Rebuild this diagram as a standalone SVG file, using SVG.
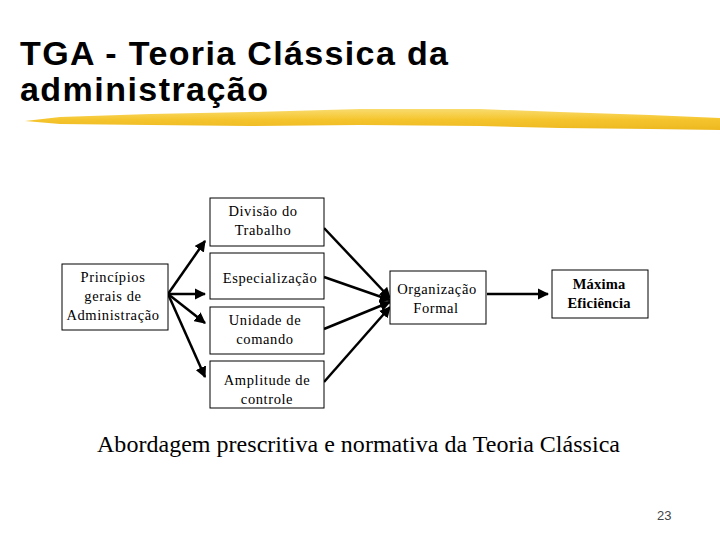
<svg xmlns="http://www.w3.org/2000/svg" width="720" height="540" viewBox="0 0 720 540">
<style>
.title{font-family:"Liberation Sans",Arial,sans-serif;font-weight:bold;font-size:34px;fill:#000}
.box{fill:#fff;stroke:#000;stroke-width:1}
.lbl{font-family:"Liberation Serif","Times New Roman",serif;font-size:14.5px;fill:#000;text-anchor:middle;letter-spacing:0.6px}
.bold{font-weight:bold;letter-spacing:0.2px}
.conn{stroke:#000;stroke-width:2.5;fill:none;marker-end:url(#ah)}
.cap{font-family:"Liberation Serif","Times New Roman",serif;font-size:24px;fill:#000}
.num{font-family:"Liberation Sans",Arial,sans-serif;font-size:13px;fill:#444}
</style>
<defs>
<marker id="ah" viewBox="0 0 10 10" refX="9" refY="5" markerWidth="4.5" markerHeight="4.5" orient="auto" markerUnits="strokeWidth">
<path d="M0,0 L10,5 L0,10 z" fill="#000"/>
</marker>
<linearGradient id="brush" x1="0" y1="0" x2="0" y2="1">
<stop offset="0" stop-color="#F9DC6E"/>
<stop offset="0.5" stop-color="#F5C52E"/>
<stop offset="1" stop-color="#EDB820"/>
</linearGradient>
</defs>
<rect width="720" height="540" fill="#fff"/>
<g id="title">
<text class="title" x="20" y="65" textLength="428" lengthAdjust="spacing">TGA - Teoria Clássica da</text>
<text class="title" x="20" y="101" textLength="248" lengthAdjust="spacing">administração</text>
<path d="M25,121 L60,117 L150,114 L250,112 L360,109 L480,109 L560,112 L650,115 L720,118 L720,130 L650,129 L560,128 L480,126 L360,125 L250,126 L150,125 L60,124 Z" fill="url(#brush)"/>
</g>
<g id="connectors">
<line class="conn" x1="168" y1="294" x2="205" y2="241"/>
<line class="conn" x1="168" y1="294" x2="205" y2="294"/>
<line class="conn" x1="168" y1="294" x2="205" y2="323"/>
<line class="conn" x1="168" y1="294" x2="205" y2="377"/>
<line class="conn" x1="324" y1="228" x2="390" y2="298"/>
<line class="conn" x1="324" y1="277" x2="390" y2="300"/>
<line class="conn" x1="324" y1="329" x2="390" y2="302"/>
<line class="conn" x1="324" y1="382" x2="390" y2="307"/>
<line class="conn" x1="487" y1="294" x2="548" y2="294"/>
</g>
<g id="principios">
<rect class="box" x="62" y="264" width="106" height="66"/>
<text class="lbl" x="113" y="282">Princípios</text>
<text class="lbl" x="113" y="301">gerais de</text>
<text class="lbl" x="113" y="320">Administração</text>
</g>
<g id="divisao">
<rect class="box" x="210" y="198" width="114" height="48"/>
<text class="lbl" x="263" y="216">Divisão do</text>
<text class="lbl" x="263" y="235">Trabalho</text>
</g>
<g id="especializacao">
<rect class="box" x="210" y="253" width="114" height="46"/>
<text class="lbl" x="270" y="283">Especialização</text>
</g>
<g id="unidade">
<rect class="box" x="210" y="307" width="114" height="47"/>
<text class="lbl" x="265" y="325">Unidade de</text>
<text class="lbl" x="265" y="344">comando</text>
</g>
<g id="amplitude">
<rect class="box" x="210" y="361" width="114" height="47"/>
<text class="lbl" x="267" y="385">Amplitude de</text>
<text class="lbl" x="267" y="404">controle</text>
</g>
<g id="organizacao">
<rect class="box" x="390" y="271" width="96" height="53"/>
<text class="lbl" x="437" y="294">Organização</text>
<text class="lbl" x="436" y="313">Formal</text>
</g>
<g id="maxima">
<rect class="box" x="552" y="270" width="96" height="48"/>
<text class="lbl bold" x="599" y="289">Máxima</text>
<text class="lbl bold" x="599" y="308">Eficiência</text>
</g>
<text class="cap" x="97" y="452" textLength="523" lengthAdjust="spacing">Abordagem prescritiva e normativa da Teoria Clássica</text>
<text class="num" x="657" y="520">23</text>
</svg>
